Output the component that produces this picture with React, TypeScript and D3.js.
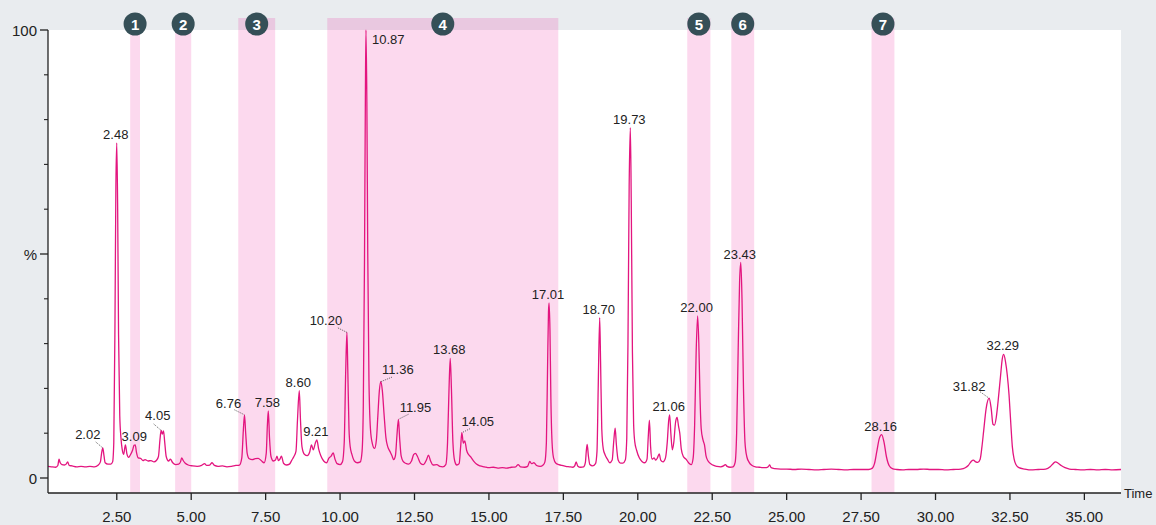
import React, { useRef, useEffect } from 'react';
import * as d3 from 'd3';

// chromatogram trace: [time (min), intensity (%)]
const trace = [
  [0.19, 2.6],[0.3, 2.5],[0.45, 2.4],[0.52, 2.8],[0.56, 4.2],[0.6, 3.4],[0.66, 3.0],[0.74, 2.9],[0.8, 3.1],[0.85, 3.6],[0.9, 2.8],
  [1.0, 2.7],[1.15, 2.5],[1.3, 2.6],[1.45, 2.5],[1.6, 2.6],[1.75, 2.5],[1.88, 2.9],[1.95, 3.6],[1.99, 5.5],[2.03, 6.7],[2.07, 5.0],
  [2.11, 3.4],[2.2, 3.1],[2.3, 3.1],[2.36, 3.6],[2.40, 8],[2.44, 35],[2.47, 65],[2.50, 74.8],[2.53, 60],[2.56, 32],[2.6, 14],
  [2.64, 9],[2.68, 6.5],[2.73, 5.3],[2.79, 7.4],[2.84, 5.4],[2.9, 4.6],[2.96, 5.2],[3.03, 6.2],[3.08, 7.3],[3.12, 7.4],[3.16, 5.8],
  [3.22, 4.5],[3.3, 4.4],[3.38, 3.9],[3.45, 4.1],[3.55, 3.8],[3.65, 3.9],[3.75, 3.6],[3.83, 3.9],[3.9, 4.8],[3.95, 8.5],[3.99, 10.6],
  [4.03, 9.8],[4.07, 10.5],[4.11, 8],[4.16, 4.8],[4.24, 3.8],[4.3, 4.2],[4.38, 3.4],[4.48, 3.0],[4.58, 3.1],[4.64, 3.6],[4.68, 4.5],
  [4.73, 3.9],[4.8, 3.3],[4.9, 2.9],[5.05, 2.7],[5.2, 2.6],[5.35, 2.8],[5.45, 3.2],[5.52, 2.8],[5.62, 2.9],[5.7, 3.4],[5.78, 2.8],
  [5.9, 2.6],[6.05, 2.7],[6.2, 2.5],[6.35, 2.6],[6.5, 2.8],[6.62, 2.9],[6.7, 4.5],[6.75, 10.5],[6.79, 14.1],[6.83, 10],[6.88, 5.5],
  [6.95, 4.3],[7.05, 4.1],[7.15, 4.3],[7.25, 4.4],[7.35, 3.9],[7.45, 3.4],[7.52, 5.5],[7.56, 12],[7.59, 15.0],[7.63, 9],[7.68, 4.8],
  [7.76, 3.8],[7.83, 4.0],[7.88, 4.9],[7.93, 3.9],[7.98, 4.2],[8.03, 4.9],[8.1, 3.3],[8.2, 2.9],[8.3, 3.1],[8.38, 4.0],[8.45, 4.8],
  [8.52, 6],[8.57, 13],[8.63, 19.5],[8.67, 13],[8.72, 7],[8.8, 5.3],[8.9, 5.0],[8.98, 5.8],[9.04, 7.4],[9.1, 6.3],[9.17, 7.8],
  [9.22, 8.5],[9.28, 6.5],[9.35, 5.0],[9.45, 3.8],[9.55, 3.4],[9.62, 4.4],[9.7, 4.9],[9.77, 5.6],[9.83, 4.2],[9.9, 3.2],[10.0, 3.0],
  [10.08, 3.6],[10.14, 8],[10.19, 24],[10.23, 32.5],[10.26, 24],[10.3, 11],[10.34, 7.0],[10.4, 5.2],[10.48, 3.8],[10.58, 3.4],
  [10.68, 3.6],[10.74, 6],[10.78, 16],[10.82, 48],[10.85, 85],[10.87, 100],[10.9, 84],[10.93, 50],[10.97, 22],[11.02, 11],
  [11.08, 7.8],[11.16, 6.6],[11.22, 8.5],[11.27, 14],[11.32, 19.5],[11.37, 21.5],[11.42, 19.5],[11.48, 14],[11.54, 9],[11.6, 7.0],
  [11.67, 6.0],[11.74, 5.0],[11.8, 4.1],[11.86, 5.0],[11.91, 9.5],[11.96, 13.1],[12.0, 9],[12.05, 5],[12.12, 3.7],[12.2, 3.3],
  [12.3, 3.1],[12.4, 3.8],[12.47, 5.2],[12.53, 5.5],[12.6, 4.8],[12.7, 3.3],[12.8, 3.0],[12.9, 4.0],[12.97, 5.1],[13.04, 3.8],
  [13.12, 2.9],[13.25, 3.0],[13.35, 2.6],[13.45, 2.5],[13.55, 3.0],[13.61, 8],[13.66, 20],[13.7, 26.7],[13.74, 20],[13.79, 8],
  [13.85, 3.8],[13.92, 2.9],[14.0, 3.2],[14.05, 7],[14.09, 10.1],[14.14, 7.8],[14.19, 8.3],[14.25, 6.2],[14.32, 5.2],[14.4, 4.6],
  [14.48, 3.8],[14.58, 3.1],[14.7, 2.7],[14.85, 2.5],[15.0, 2.3],[15.15, 2.4],[15.3, 2.2],[15.45, 2.3],[15.6, 2.2],[15.75, 2.4],
  [15.9, 2.5],[15.98, 3.0],[16.06, 2.5],[16.2, 2.4],[16.3, 2.6],[16.37, 3.7],[16.43, 3.2],[16.51, 3.4],[16.6, 2.8],[16.72, 2.6],
  [16.82, 2.9],[16.88, 3.6],[16.93, 8],[16.97, 25],[17.0, 37],[17.02, 39.1],[17.05, 33],[17.08, 18],[17.12, 8],[17.17, 4.5],
  [17.25, 3.3],[17.35, 3.0],[17.45, 2.8],[17.58, 2.6],[17.7, 2.5],[17.82, 2.4],[17.88, 2.7],[17.93, 3.6],[17.98, 2.7],[18.08, 2.4],
  [18.18, 2.5],[18.24, 3.5],[18.27, 6],[18.3, 7.5],[18.34, 5],[18.39, 3],[18.48, 2.7],[18.58, 3.2],[18.63, 6],[18.67, 20],
  [18.72, 35.8],[18.75, 26],[18.79, 11],[18.84, 6.5],[18.9, 5.2],[18.98, 4.2],[19.06, 3.4],[19.14, 4.0],[19.19, 8],[19.24, 11.1],
  [19.28, 7.5],[19.34, 4],[19.42, 3.3],[19.5, 3.3],[19.58, 4],[19.63, 9],[19.67, 30],[19.71, 65],[19.75, 78.2],[19.78, 62],
  [19.82, 28],[19.86, 12],[19.9, 8],[19.96, 6.2],[20.05, 4.5],[20.14, 3.7],[20.24, 3.4],[20.31, 4.2],[20.35, 9],[20.39, 12.9],
  [20.43, 7],[20.48, 4.2],[20.55, 4.5],[20.6, 4.0],[20.66, 4.5],[20.72, 5.4],[20.77, 4.0],[20.85, 3.6],[20.93, 4.5],[20.99, 8],
  [21.04, 13],[21.07, 14.1],[21.11, 10],[21.16, 6.3],[21.21, 8],[21.27, 12.5],[21.32, 13.5],[21.37, 11.5],[21.41, 10],[21.46, 6.5],
  [21.53, 4.8],[21.62, 4.2],[21.72, 3.3],[21.8, 3.0],[21.86, 4.5],[21.91, 12],[21.96, 28],[22.01, 36.2],[22.05, 30],[22.09, 18],
  [22.13, 11],[22.19, 8.5],[22.24, 7.4],[22.29, 5.0],[22.36, 3.8],[22.45, 3.2],[22.55, 2.8],[22.66, 2.6],[22.78, 2.5],[22.88, 2.7],
  [22.94, 3.0],[23.0, 2.6],[23.1, 2.4],[23.2, 2.5],[23.27, 3.5],[23.32, 10],[23.37, 28],[23.42, 44],[23.46, 48.1],[23.5, 40],
  [23.55, 20],[23.6, 8],[23.66, 4.8],[23.74, 3.5],[23.84, 2.8],[23.95, 2.5],[24.08, 2.4],[24.2, 2.3],[24.32, 2.3],[24.38, 2.5],
  [24.43, 2.9],[24.48, 2.3],[24.6, 2.1],[24.8, 2.0],[25.0, 2.0],[25.25, 1.9],[25.5, 2.0],[25.75, 1.9],[26.0, 1.8],[26.25, 1.9],
  [26.5, 2.0],[26.75, 1.9],[27.0, 1.8],[27.25, 1.9],[27.5, 1.9],[27.75, 1.9],[27.88, 2.2],[27.95, 3.2],[28.03, 6],[28.11, 8.8],
  [28.19, 9.7],[28.27, 8],[28.35, 4.8],[28.44, 2.8],[28.55, 2.1],[28.7, 1.9],[28.9, 1.8],[29.1, 1.9],[29.35, 1.9],[29.6, 2.0],
  [29.85, 1.9],[30.1, 1.9],[30.35, 1.8],[30.6, 1.9],[30.85, 2.0],[31.0, 2.3],[31.1, 2.8],[31.2, 3.7],[31.27, 4.0],[31.35, 3.6],
  [31.42, 3.5],[31.5, 4.2],[31.56, 7],[31.62, 10.7],[31.7, 15.5],[31.8, 17.8],[31.87, 15.5],[31.93, 12],[31.98, 11.8],[32.04, 13.5],
  [32.1, 17],[32.18, 22.5],[32.24, 26.5],[32.29, 27.6],[32.35, 26],[32.41, 23],[32.47, 18.5],[32.53, 12],[32.58, 7],[32.64, 4.2],
  [32.7, 3.0],[32.8, 2.3],[33.0, 2.0],[33.2, 1.8],[33.45, 1.9],[33.7, 2.0],[33.85, 2.5],[33.95, 3.2],[34.03, 3.6],[34.12, 3.3],
  [34.22, 2.8],[34.35, 2.3],[34.5, 2.0],[34.7, 1.9],[34.95, 1.8],[35.2, 1.9],[35.45, 1.8],[35.7, 1.9],[35.95, 1.8],[36.23, 1.9]
];

// labelled peaks: [label, apex time, apex %]
const peaks = [
  ['2.02', 2.03, 6.7], ['2.48', 2.50, 74.8], ['3.09', 3.12, 7.4], ['4.05', 4.01, 10.5],
  ['6.76', 6.79, 14.1], ['7.58', 7.59, 15.0], ['8.60', 8.63, 19.5], ['9.21', 9.22, 8.5],
  ['10.20', 10.23, 32.5], ['10.87', 10.87, 100], ['11.36', 11.37, 21.5], ['11.95', 11.96, 13.1],
  ['13.68', 13.70, 26.7], ['14.05', 14.09, 10.1], ['17.01', 17.02, 39.1], ['18.70', 18.72, 35.8],
  ['19.73', 19.75, 78.2], ['21.06', 21.07, 14.1], ['22.00', 22.01, 36.2], ['23.43', 23.46, 48.1],
  ['28.16', 28.19, 9.7], ['31.82', 31.80, 17.8], ['32.29', 32.29, 27.6]
];

// shaded time windows and their numbers
const windows = [[2.95, 3.28], [4.46, 5.0], [6.58, 7.82], [9.57, 17.33], [21.66, 22.44], [23.14, 23.91], [27.85, 28.62]];
const windowNames = ['1', '2', '3', '4', '5', '6', '7'];

const xTicks = [2.5, 5, 7.5, 10, 12.5, 15, 17.5, 20, 22.5, 25, 27.5, 30, 32.5, 35];
const yMajor = [0, 50, 100];
const yMajorLabels = ['0', '%', '100'];
const yMinor = [10, 20, 30, 40, 60, 70, 80, 90];

// label placement: offset of text (dx, baseline dy) from apex, and whether a dotted leader is drawn
const labelPlace = {
  '2.02': [-15, -8.5, 'lead', -7, -6],
  '4.05': [-4, -10.5, 'lead', -8, -7],
  '6.76': [-16, -7, 'lead', -10, -5],
  '10.20': [-21, -7, 'lead', -9, -4.5],
  '11.36': [17, -8, 'lead', 11, -4.5],
  '11.95': [17, -7, 'lead', 10, -5],
  '14.05': [16, -6.5, 'lead', 8, -4],
  '31.82': [-20, -7, 'lead', -9, -6.5],
  '10.87': [6, 14, 'start'],
};

const FONT = '"Liberation Sans", Arial, Helvetica, sans-serif';

export default function App() {
  const ref = useRef(null);
  const width = 1156, height = 525;

  useEffect(() => {
    const svg = d3.select(ref.current);
    svg.selectAll('*').remove();

    const left = 48, right = 1121, top = 30, axisY = 493;

    const x = d3.scaleLinear().domain([0.19, 36.23]).range([left, right]);
    const y = d3.scaleLinear().domain([0, 100]).range([478, top]);

    svg.append('rect').attr('width', width).attr('height', height).attr('fill', '#e9ecef');
    svg.append('rect').attr('x', left).attr('y', top).attr('width', right - left).attr('height', axisY - top).attr('fill', '#fff');

    // shaded windows
    svg.append('g').selectAll('rect').data(windows).join('rect')
      .attr('x', d => x(d[0]))
      .attr('width', d => x(d[1]) - x(d[0]))
      .attr('y', 18)
      .attr('height', axisY - 18)
      .attr('fill', '#ec008c')
      .attr('fill-opacity', 0.15);

    // trace
    const line = d3.line().x(d => x(d[0])).y(d => y(d[1])).curve(d3.curveMonotoneX);
    svg.append('path').datum(trace)
      .attr('d', line)
      .attr('fill', 'none')
      .attr('stroke', '#e3157f')
      .attr('stroke-width', 1.3)
      .attr('stroke-linejoin', 'round');

    // axes
    svg.append('line').attr('x1', left).attr('x2', left).attr('y1', top).attr('y2', axisY)
      .attr('stroke', '#222').attr('stroke-width', 1.3);
    svg.append('line').attr('x1', left).attr('x2', right).attr('y1', axisY).attr('y2', axisY)
      .attr('stroke', '#222').attr('stroke-width', 1.3);

    const xg = svg.append('g');
    xg.selectAll('line').data(xTicks).join('line')
      .attr('x1', d => x(d)).attr('x2', d => x(d))
      .attr('y1', axisY).attr('y2', axisY + 7)
      .attr('stroke', '#222').attr('stroke-width', 1.3);
    xg.selectAll('text').data(xTicks).join('text')
      .attr('x', d => x(d)).attr('y', 522)
      .attr('text-anchor', 'middle')
      .attr('font-family', FONT).attr('font-size', 15).attr('fill', '#222')
      .text(d => d3.format('.2f')(d));

    svg.append('text').attr('x', 1124).attr('y', 498)
      .attr('font-family', FONT).attr('font-size', 13).attr('fill', '#222').text('Time');

    const yg = svg.append('g');
    yg.selectAll('line.major').data(yMajor).join('line').attr('class', 'major')
      .attr('x1', left - 8).attr('x2', left).attr('y1', d => y(d)).attr('y2', d => y(d))
      .attr('stroke', '#222').attr('stroke-width', 1.3);
    yg.selectAll('line.minor').data(yMinor).join('line').attr('class', 'minor')
      .attr('x1', left - 4).attr('x2', left).attr('y1', d => y(d)).attr('y2', d => y(d))
      .attr('stroke', '#222').attr('stroke-width', 1.1);
    yg.selectAll('text').data(yMajor).join('text')
      .attr('x', left - 11).attr('y', d => y(d) + 5.5)
      .attr('text-anchor', 'end')
      .attr('font-family', FONT).attr('font-size', 15).attr('fill', '#222')
      .text((d, i) => yMajorLabels[i]);

    // peak labels
    const pg = svg.append('g');
    peaks.forEach(([label, t, v]) => {
      const px = x(t), py = y(v);
      const place = labelPlace[label];
      if (!place) {
        pg.append('text').attr('x', px - 1).attr('y', py - 4)
          .attr('text-anchor', 'middle')
          .attr('font-family', FONT).attr('font-size', 13).attr('fill', '#222').text(label);
        return;
      }
      if (place[2] === 'start') {
        pg.append('text').attr('x', px + place[0]).attr('y', py + place[1])
          .attr('font-family', FONT).attr('font-size', 13).attr('fill', '#222').text(label);
        return;
      }
      pg.append('text').attr('x', px + place[0]).attr('y', py + place[1])
        .attr('text-anchor', 'middle')
        .attr('font-family', FONT).attr('font-size', 13).attr('fill', '#222').text(label);
      pg.append('line')
        .attr('x1', px + place[3]).attr('y1', py + place[4])
        .attr('x2', px).attr('y2', py)
        .attr('stroke', '#444').attr('stroke-width', 0.9)
        .attr('stroke-dasharray', '1,1.2');
    });

    // numbered badges
    const bg = svg.append('g');
    windows.forEach((w, i) => {
      const cx = x((w[0] + w[1]) / 2);
      bg.append('circle').attr('cx', cx).attr('cy', 24).attr('r', 11.5).attr('fill', '#354f57');
      bg.append('text').attr('x', cx).attr('y', 29.5)
        .attr('text-anchor', 'middle')
        .attr('font-family', FONT).attr('font-size', 15).attr('font-weight', 'bold').attr('fill', '#fff')
        .text(windowNames[i]);
    });
  }, []);

  return (
    <div style={{ position: 'absolute', left: 0, top: 0 }}>
      <svg width={width} height={height} ref={ref} style={{ display: 'block' }} />
    </div>
  );
}
